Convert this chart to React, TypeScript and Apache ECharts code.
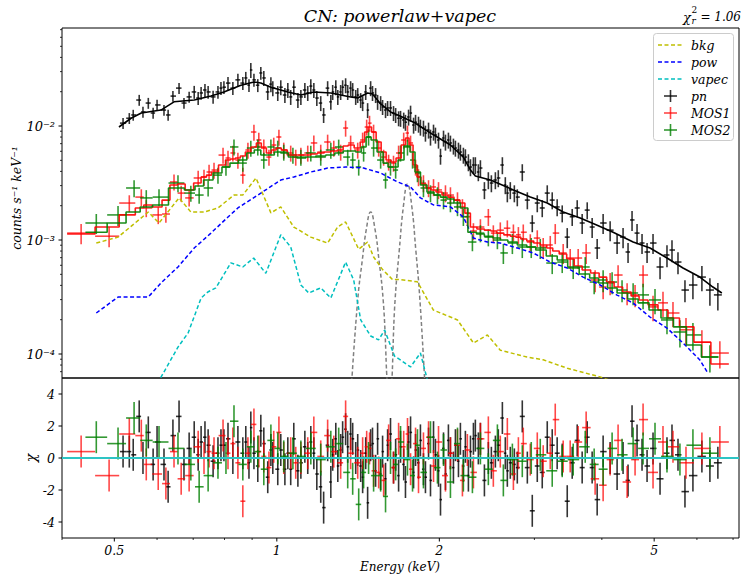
import React, { useEffect, useRef } from 'react';
import * as echarts from 'echarts';

// ---------------- axes ----------------
const X_MIN = 0.4;
const X_MAX = 7.18;
const Y_MIN = 6.16e-5;
const Y_MAX = 0.0724;
const CHI_MIN = -5;
const CHI_MAX = 5;

const xMajorTicks = [0.5, 1, 2, 5];
const xMinorTicks = [0.4, 0.6, 0.7, 0.8, 0.9, 3, 4, 6, 7];
const yMajorTicks = [1e-4, 1e-3, 1e-2];
const yMinorTicks = [7e-5, 8e-5, 9e-5, 2e-4, 3e-4, 4e-4, 5e-4, 6e-4, 7e-4, 8e-4, 9e-4,
  2e-3, 3e-3, 4e-3, 5e-3, 6e-3, 7e-3, 8e-3, 9e-3, 0.02, 0.03, 0.04, 0.05, 0.06, 0.07];
const chiTicks = [-4, -2, 0, 2, 4];

// ---------------- pn (black) ----------------
const pnE = [
  0.519, 0.533, 0.542, 0.556, 0.565, 0.578, 0.590, 0.600, 0.618, 0.629,
  0.642, 0.659, 0.673, 0.688, 0.703, 0.715, 0.724, 0.736, 0.746, 0.762,
  0.778, 0.788, 0.798, 0.812, 0.829, 0.847, 0.865, 0.876, 0.888, 0.895,
  0.907, 0.922, 0.934, 0.946, 0.962, 0.975, 0.983, 1.004, 1.017, 1.035,
  1.048, 1.061, 1.075, 1.094, 1.108, 1.127, 1.141, 1.156, 1.171, 1.186,
  1.206, 1.221, 1.242, 1.259, 1.269, 1.286, 1.297, 1.313, 1.324, 1.341,
  1.353, 1.370, 1.382, 1.400, 1.412, 1.430, 1.442, 1.461, 1.473, 1.492,
  1.504, 1.524, 1.537, 1.557, 1.570, 1.590, 1.604, 1.624, 1.645, 1.660,
  1.681, 1.695, 1.718, 1.731, 1.754, 1.769, 1.792, 1.807, 1.830, 1.845,
  1.869, 1.885, 1.910, 1.926, 1.951, 1.967, 1.993, 2.010, 2.036, 2.053,
  2.079, 2.097, 2.124, 2.142, 2.170, 2.188, 2.216, 2.235, 2.264, 2.284,
  2.313, 2.332, 2.362, 2.383, 2.424, 2.465, 2.497, 2.540, 2.572, 2.617,
  2.650, 2.673, 2.707, 2.754, 2.789, 2.849, 2.911, 2.973, 3.037, 3.102,
  3.169, 3.237, 3.306, 3.378, 3.451, 3.525, 3.601, 3.678, 3.758, 3.838,
  3.921, 4.022, 4.144, 4.269, 4.379, 4.473, 4.550, 4.648, 4.748, 4.851,
  4.976, 5.127, 5.281, 5.395, 5.535, 5.702, 5.899, 6.129, 6.342, 6.561,
];
const pnY = [
  0.0106, 0.0117, 0.0125, 0.0169, 0.0133, 0.0159, 0.0130, 0.0153, 0.0138, 0.0125,
  0.0183, 0.0215, 0.0159, 0.0180, 0.0199, 0.0176, 0.0195, 0.0207, 0.0199, 0.0180,
  0.0199, 0.0215, 0.0219, 0.0238, 0.0215, 0.0254, 0.0238, 0.0264, 0.0228, 0.0310,
  0.0254, 0.0228, 0.0292, 0.0264, 0.0199, 0.0233, 0.0215, 0.0195, 0.0219, 0.0187,
  0.0207, 0.0180, 0.0219, 0.0169, 0.0180, 0.0207, 0.0195, 0.0224, 0.0207, 0.0176,
  0.0159, 0.0125, 0.0215, 0.0163, 0.0199, 0.0219, 0.0180, 0.0199, 0.0219, 0.0228,
  0.0199, 0.0215, 0.0207, 0.0180, 0.0187, 0.0169, 0.0159, 0.0199, 0.0138, 0.0215,
  0.0195, 0.0187, 0.0163, 0.0159, 0.0147, 0.0138, 0.0144, 0.0144, 0.0130, 0.0125,
  0.0117, 0.0117, 0.0113, 0.0108, 0.0120, 0.0130, 0.0102, 0.0108, 0.0104, 0.0098,
  0.0096, 0.00868, 0.00923, 0.00801, 0.00886, 0.00834, 0.00754, 0.00545, 0.00785, 0.00724,
  0.00754, 0.00710, 0.00668, 0.00641, 0.00616, 0.00591, 0.00556, 0.00534, 0.00483, 0.00437,
  0.00455, 0.00455, 0.00395, 0.00428, 0.00275, 0.00336, 0.00316, 0.00336, 0.00350, 0.00455,
  0.00304, 0.00258, 0.00275, 0.00258, 0.00238, 0.00395, 0.00224, 0.00141, 0.00211, 0.00191,
  0.00258, 0.00224, 0.00195, 0.00172, 0.00106, 0.00160, 0.00191, 0.00141, 0.00183, 0.00130,
  0.000851, 0.00141, 0.00122, 0.000941, 0.00106, 0.000785, 0.00150, 0.00115, 0.000941, 0.000785,
  0.000941, 0.000580, 0.000739, 0.000817, 0.000641, 0.000364, 0.000403, 0.000473, 0.000364, 0.000330,
];
const pnErr = [
  0.11, 0.11, 0.11, 0.11, 0.11, 0.11, 0.11, 0.11, 0.11, 0.11,
  0.11, 0.11, 0.11, 0.11, 0.13, 0.13, 0.13, 0.13, 0.13, 0.13,
  0.13, 0.13, 0.13, 0.13, 0.13, 0.13, 0.13, 0.13, 0.13, 0.15,
  0.13, 0.13, 0.13, 0.15, 0.15, 0.15, 0.15, 0.15, 0.15, 0.15,
  0.15, 0.15, 0.15, 0.15, 0.15, 0.15, 0.15, 0.15, 0.15, 0.15,
  0.15, 0.15, 0.15, 0.15, 0.15, 0.15, 0.15, 0.15, 0.15, 0.15,
  0.15, 0.15, 0.15, 0.15, 0.15, 0.15, 0.15, 0.15, 0.15, 0.15,
  0.15, 0.15, 0.15, 0.15, 0.15, 0.15, 0.15, 0.15, 0.15, 0.15,
  0.15, 0.16, 0.16, 0.16, 0.16, 0.16, 0.16, 0.16, 0.16, 0.16,
  0.16, 0.16, 0.16, 0.16, 0.16, 0.16, 0.16, 0.16, 0.16, 0.16,
  0.16, 0.16, 0.16, 0.16, 0.16, 0.16, 0.16, 0.17, 0.17, 0.17,
  0.17, 0.17, 0.17, 0.17, 0.17, 0.17, 0.17, 0.17, 0.17, 0.17,
  0.17, 0.17, 0.17, 0.17, 0.17, 0.17, 0.17, 0.17, 0.17, 0.17,
  0.17, 0.17, 0.17, 0.17, 0.20, 0.17, 0.17, 0.20, 0.17, 0.20,
  0.20, 0.20, 0.20, 0.20, 0.20, 0.20, 0.20, 0.20, 0.20, 0.20,
  0.20, 0.22, 0.22, 0.22, 0.22, 0.22, 0.25, 0.25, 0.27, 0.27,
];
const pnChi = [
  0.4, 0.4, 0.2, 2.6, 0.0, 1.6, -0.4, 1.0, -0.4, -1.8,
  1.4, 2.6, -0.4, 0.6, 1.3, 0.2, 1.0, 1.3, 0.8, -0.2,
  0.3, 0.8, 0.8, 1.2, 0.0, 1.0, 0.3, 1.0, -0.3, 1.9,
  0.3, -0.5, 1.7, 0.9, -1.2, 0.5, 0.0, -0.7, 0.5, -0.7,
  0.3, -0.7, 1.2, -0.8, -0.3, 0.7, 0.0, 1.0, 0.3, -1.0,
  -1.8, -3.1, 0.8, -1.5, 0.2, 1.2, -0.5, 0.5, 1.3, 1.8,
  0.7, 1.5, 1.2, 0.0, 0.5, -0.5, -1.2, 0.3, -2.8, 0.8,
  0.9, -0.8, 1.2, -1.0, 0.4, -1.3, 0.8, 1.5, -0.6, 0.2,
  -1.1, 0.7, -0.4, -1.5, 1.0, 1.6, -0.9, 0.5, -0.3, 1.1,
  -0.7, -1.2, 0.9, -1.4, 1.3, 0.2, -0.8, -2.6, 0.6, -1.0,
  1.1, 0.3, -0.6, 0.8, -0.2, 1.2, -0.5, 0.7, -1.1, 0.4,
  1.2, 1.4, 0.6, 1.2, -1.4, 0.0, -0.3, 0.4, 0.8, 2.5,
  0.3, -0.8, -0.3, -0.4, -0.6, 2.6, -0.6, -3.3, -0.5, -0.9,
  1.3, 0.8, 0.3, -0.1, -2.7, -0.3, 1.1, -0.6, 1.3, -0.6,
  -2.6, 0.4, 0.0, -1.0, 0.0, -1.4, 2.3, 1.1, 0.2, -0.5,
  0.6, -1.3, 0.3, 1.1, 0.2, -2.1, -1.1, 0.1, -0.5, -0.3,
];
const pnModelE = [0.510, 0.537, 0.561, 0.610, 0.645, 0.703, 0.755, 0.798, 0.858, 0.907, 0.934,
  0.975, 1.048, 1.108, 1.171, 1.259, 1.370, 1.412, 1.473, 1.504, 1.557, 1.624, 1.695, 1.792,
  1.926, 2.097, 2.216, 2.284, 2.332, 2.487, 2.743, 2.948, 3.169, 3.392, 3.647, 3.921, 4.197,
  4.571, 4.912, 5.281, 5.654, 6.077, 6.424, 6.673];
const pnModelY = [0.0098, 0.0117, 0.0130, 0.0138, 0.0163, 0.0169, 0.0183, 0.0199, 0.0228, 0.0243, 0.0238,
  0.0219, 0.0199, 0.0187, 0.0199, 0.0195, 0.0180, 0.0176, 0.0195, 0.0191, 0.0156, 0.0133, 0.0122, 0.0108,
  0.00868, 0.00682, 0.00534, 0.00411, 0.00364, 0.00336, 0.00275, 0.00238, 0.00211, 0.00176, 0.00156, 0.00135, 0.00117,
  0.00096, 0.00085, 0.000695, 0.000568, 0.000473, 0.000387, 0.000343];

// ---------------- MOS1 (red) ----------------
const m1E = [
  0.434, 0.489, 0.533, 0.561, 0.573, 0.603, 0.623, 0.645, 0.665, 0.688,
  0.715, 0.733, 0.749, 0.765, 0.795, 0.812, 0.829, 0.847, 0.865, 0.884,
  0.907, 0.926, 0.946, 0.967, 0.987, 1.009, 1.030, 1.061, 1.084, 1.108,
  1.141, 1.171, 1.206, 1.242, 1.275, 1.313, 1.341, 1.370, 1.412, 1.442,
  1.467, 1.485, 1.511, 1.544, 1.577, 1.611, 1.645, 1.681, 1.718, 1.746,
  1.769, 1.807, 1.830, 1.869, 1.910, 1.951, 1.993, 2.053, 2.097, 2.161,
  2.207, 2.254, 2.313, 2.383, 2.465, 2.518, 2.594, 2.673, 2.743, 2.802,
  2.861, 2.948, 3.037, 3.115, 3.210, 3.279, 3.392, 3.495, 3.616, 3.741,
  3.887, 4.022, 4.144, 4.287, 4.455, 4.609, 4.769, 4.976, 5.192, 5.418,
  5.727, 6.129, 6.617,
];
const m1Y = [
  0.00115, 0.00108, 0.00211, 0.00238, 0.00191, 0.00166, 0.00169, 0.00323, 0.00258, 0.00234,
  0.00350, 0.00357, 0.00395, 0.00411, 0.00556, 0.00524, 0.00580, 0.00503, 0.00371, 0.00616,
  0.00886, 0.00754, 0.00655, 0.00534, 0.00681, 0.00801, 0.00616, 0.00580, 0.00534, 0.00556,
  0.00580, 0.00710, 0.00591, 0.00724, 0.00641, 0.00591, 0.00960, 0.00710, 0.00616, 0.00754,
  0.00980, 0.0106, 0.00886, 0.00641, 0.00534, 0.00483, 0.00473, 0.00580, 0.00754, 0.00868,
  0.00710, 0.00437, 0.00357, 0.00316, 0.00286, 0.00292, 0.00275, 0.00258, 0.00248, 0.00224,
  0.00195, 0.00160, 0.00120, 0.00130, 0.00160, 0.00115, 0.00122, 0.00127, 0.00117, 0.00111,
  0.00117, 0.00096, 0.00104, 0.000868, 0.000905, 0.00115, 0.000770, 0.000695, 0.000695, 0.000770,
  0.000446, 0.000387, 0.000420, 0.000493, 0.000343, 0.000330, 0.000493, 0.000259, 0.000281, 0.000229,
  0.000163, 0.000127, 0.000102,
];
const m1Err = [
  0.20, 0.20, 0.17, 0.17, 0.17, 0.17, 0.16, 0.16, 0.16, 0.16,
  0.16, 0.16, 0.16, 0.16, 0.16, 0.16, 0.16, 0.16, 0.16, 0.16,
  0.16, 0.16, 0.16, 0.16, 0.16, 0.16, 0.16, 0.16, 0.16, 0.16,
  0.16, 0.16, 0.16, 0.16, 0.16, 0.16, 0.16, 0.16, 0.16, 0.16,
  0.16, 0.16, 0.16, 0.16, 0.16, 0.16, 0.16, 0.16, 0.16, 0.16,
  0.16, 0.16, 0.17, 0.17, 0.17, 0.17, 0.17, 0.17, 0.17, 0.17,
  0.17, 0.17, 0.17, 0.17, 0.17, 0.17, 0.17, 0.17, 0.17, 0.17,
  0.17, 0.17, 0.17, 0.20, 0.20, 0.20, 0.20, 0.20, 0.20, 0.20,
  0.22, 0.22, 0.22, 0.22, 0.22, 0.22, 0.22, 0.25, 0.25, 0.25,
  0.27, 0.27, 0.27,
];
const m1Model = [
  0.00113, 0.00130, 0.00166, 0.00191, 0.00203, 0.00195, 0.00224, 0.00304, 0.00310, 0.00275,
  0.00316, 0.00357, 0.00371, 0.00395, 0.00455, 0.00503, 0.00513, 0.00524, 0.00545, 0.00591,
  0.00655, 0.00710, 0.00641, 0.00580, 0.00616, 0.00641, 0.00616, 0.00556, 0.00556, 0.00556,
  0.00556, 0.00568, 0.00580, 0.00591, 0.00604, 0.00616, 0.00668, 0.00681, 0.00641, 0.00724,
  0.00886, 0.00980, 0.00886, 0.00724, 0.00591, 0.00503, 0.00483, 0.00524, 0.00681, 0.00785,
  0.00681, 0.00455, 0.00357, 0.00310, 0.00286, 0.00275, 0.00264, 0.00248, 0.00238, 0.00224,
  0.00211, 0.00172, 0.00130, 0.00125, 0.00122, 0.00120, 0.00115, 0.00111, 0.00108, 0.00106,
  0.00102, 0.00098, 0.00094, 0.000905, 0.000851, 0.000801, 0.000754, 0.000682, 0.000591, 0.000545,
  0.000513, 0.000473, 0.000428, 0.000387, 0.000350, 0.000323, 0.000298, 0.000270, 0.000243, 0.000207,
  0.000173, 0.000127, 0.0000818,
];
const m1Chi = [
  0.4, -1.1, 1.5, 1.4, -0.4, -1.0, -1.6, 0.4, -1.3, -1.1,
  0.7, 0.0, 0.4, 0.3, 1.4, 0.3, 0.9, -0.3, -2.7, 0.3,
  2.1, 0.4, 0.1, -0.6, 0.7, 1.6, 0.0, 0.3, -0.3, 0.0,
  0.3, 1.6, 0.1, 1.4, 0.4, -0.3, 2.6, 0.3, -0.3, 0.3,
  0.7, 0.6, -0.8, -0.9, -1.4, 1.1, -0.6, 1.2, 0.7, 1.5,
  -0.7, 0.9, -1.2, 0.6, 1.3, -0.5, 1.0, -1.1, 0.3, 0.8,
  -1.4, 0.5, -0.9, 1.2, 1.6, -0.8, 0.4, 1.5, -1.0, 0.3,
  0.9, -0.1, 0.6, -0.2, 0.3, 2.4, 0.1, 0.1, 1.0, 1.9,
  -1.3, -1.7, -0.1, 1.1, -1.5, -0.1, 2.4, -0.9, 1.0, 0.7,
  -0.3, 0.6, 1.0,
];

// ---------------- MOS2 (green) ----------------
const m2E = [
  0.463, 0.508, 0.544, 0.573, 0.605, 0.656, 0.693, 0.718, 0.746, 0.778,
  0.805, 0.833, 0.865, 0.895, 0.922, 0.946, 0.975, 1.004, 1.030, 1.071,
  1.108, 1.156, 1.206, 1.259, 1.302, 1.353, 1.382, 1.418, 1.448, 1.479,
  1.511, 1.557, 1.590, 1.624, 1.660, 1.695, 1.746, 1.784, 1.822, 1.869,
  1.926, 1.984, 2.036, 2.097, 2.161, 2.216, 2.303, 2.383, 2.465, 2.562,
  2.628, 2.731, 2.849, 2.960, 3.076, 3.237, 3.378, 3.540, 3.726, 3.871,
  4.022, 4.179, 4.360, 4.571, 4.769, 5.018, 5.281, 5.581, 5.899, 6.342,
];
const m2Y = [
  0.00141, 0.00166, 0.00286, 0.00234, 0.00238, 0.00316, 0.00258, 0.00248, 0.00286, 0.00371,
  0.00437, 0.00655, 0.00473, 0.00641, 0.00655, 0.00503, 0.00655, 0.00641, 0.00591, 0.00556,
  0.00534, 0.00580, 0.00534, 0.00616, 0.00655, 0.00534, 0.00503, 0.00437, 0.00580, 0.00801,
  0.00641, 0.00503, 0.00336, 0.00437, 0.00411, 0.00580, 0.00655, 0.00503, 0.00387, 0.00286,
  0.00258, 0.00248, 0.00224, 0.00211, 0.00195, 0.00160, 0.00096, 0.00115, 0.00106, 0.00100,
  0.000770, 0.000941, 0.000868, 0.000868, 0.000851, 0.000628, 0.000641, 0.000568, 0.000580, 0.000428,
  0.000446, 0.000428, 0.000364, 0.000343, 0.000330, 0.000298, 0.000199, 0.000156, 0.000147, 0.0000942,
];
const m2Err = [
  0.20, 0.20, 0.17, 0.17, 0.17, 0.17, 0.16, 0.16, 0.16, 0.16,
  0.16, 0.16, 0.16, 0.16, 0.16, 0.16, 0.16, 0.16, 0.16, 0.16,
  0.16, 0.16, 0.16, 0.16, 0.16, 0.16, 0.16, 0.16, 0.16, 0.16,
  0.16, 0.16, 0.16, 0.16, 0.16, 0.16, 0.16, 0.16, 0.17, 0.17,
  0.17, 0.17, 0.17, 0.17, 0.17, 0.17, 0.17, 0.17, 0.17, 0.17,
  0.20, 0.20, 0.20, 0.20, 0.20, 0.20, 0.20, 0.20, 0.22, 0.22,
  0.22, 0.22, 0.22, 0.22, 0.25, 0.25, 0.25, 0.27, 0.27, 0.27,
];
const m2Model = [
  0.00117, 0.00141, 0.00176, 0.00195, 0.00203, 0.00286, 0.00275, 0.00298, 0.00336, 0.00387,
  0.00437, 0.00473, 0.00503, 0.00580, 0.00616, 0.00556, 0.00556, 0.00591, 0.00580, 0.00534,
  0.00524, 0.00534, 0.00545, 0.00556, 0.00580, 0.00604, 0.00604, 0.00591, 0.00655, 0.00801,
  0.00754, 0.00591, 0.00473, 0.00437, 0.00437, 0.00503, 0.00668, 0.00591, 0.00395, 0.00304,
  0.00264, 0.00248, 0.00238, 0.00229, 0.00211, 0.00191, 0.00117, 0.00113, 0.00108, 0.00104,
  0.00100, 0.00096, 0.000905, 0.000868, 0.000817, 0.000724, 0.000668, 0.000580, 0.000503, 0.000464,
  0.000420, 0.000379, 0.000343, 0.000304, 0.000281, 0.000243, 0.000207, 0.000173, 0.000120, 0.0000942,
];
const m2Chi = [
  1.3, 0.9, 2.5, 1.1, 1.0, 0.6, -0.4, -1.8, -1.1, -0.3,
  0.0, 2.3, -0.4, 0.7, 0.4, -0.7, 1.1, 0.6, 0.1, 0.3,
  0.1, 0.6, -0.1, 0.7, 0.9, -0.9, -1.3, -2.9, -0.9, 0.0,
  -1.1, -1.1, -2.4, 0.0, -0.4, 1.0, -0.1, -1.1, 0.8, -0.9,
  1.3, -0.6, 0.5, -1.5, 0.9, -1.1, -1.2, 0.6, -0.7, 1.1,
  -1.4, -0.1, -0.2, 0.0, 0.2, -0.8, -0.2, -0.1, 0.7, -0.4,
  -0.7, 0.6, 0.2, 0.9, 0.6, 1.2, 0.1, -0.1, 0.8, 0.3,
];

// ---------------- model components ----------------
const bkgE = [0.463, 0.508, 0.578, 0.605, 0.659, 0.693, 0.733, 0.778, 0.833, 0.865, 0.915, 0.975,
  1.017, 1.075, 1.156, 1.242, 1.296, 1.341, 1.418, 1.473, 1.511, 1.570, 1.638, 1.695, 1.821, 1.950,
  2.161, 2.313, 2.455, 2.594, 2.907, 3.115, 3.452, 3.971, 4.320];
const bkgY = [9.4e-4, 1.06e-3, 1.76e-3, 1.41e-3, 2.34e-3, 1.76e-3, 1.76e-3, 1.91e-3, 2.48e-3, 2.48e-3, 3.50e-3, 1.73e-3,
  1.95e-3, 1.30e-3, 1.06e-3, 9.4e-4, 1.30e-3, 1.44e-3, 8.3e-4, 9.6e-4, 7.1e-4, 5.5e-4, 4.5e-4, 4.5e-4, 4.3e-4, 2.43e-4,
  1.99e-4, 1.25e-4, 1.47e-4, 1.08e-4, 9.4e-5, 8.9e-5, 7.5e-5, 6.3e-5, 5.5e-5];
const powE = [0.463, 0.508, 0.578, 0.610, 0.656, 0.703, 0.755, 0.812, 0.847, 0.934, 1.017, 1.075, 1.156,
  1.242, 1.341, 1.448, 1.557, 1.674, 1.769, 1.845, 1.950, 2.097, 2.216, 2.313, 2.455, 2.594, 2.790,
  2.985, 3.210, 3.452, 3.694, 3.971, 4.268, 4.571, 4.912, 5.280, 5.654, 6.077, 6.288];
const powY = [2.29e-4, 3.16e-4, 3.16e-4, 4.2e-4, 5.8e-4, 8.5e-4, 1.15e-3, 1.59e-3, 1.91e-3, 2.58e-3, 3.36e-3, 3.57e-3, 3.95e-3,
  4.28e-3, 4.37e-3, 4.28e-3, 3.87e-3, 3.23e-3, 2.92e-3, 2.34e-3, 2.03e-3, 1.95e-3, 1.59e-3, 1.04e-3, 9.6e-4, 9.4e-4, 8.5e-4,
  7.7e-4, 6.4e-4, 5.68e-4, 4.73e-4, 4.03e-4, 3.29e-4, 2.80e-4, 2.11e-4, 1.69e-4, 1.25e-4, 8.86e-5, 6.8e-5];
const vapecE = [0.585, 0.656, 0.685, 0.724, 0.745, 0.771, 0.822, 0.865, 0.906, 0.954, 1.017, 1.061, 1.108,
  1.146, 1.206, 1.259, 1.341, 1.388, 1.430, 1.492, 1.543, 1.584, 1.652, 1.769, 1.845, 1.901, 1.926];
const vapecY = [4.4e-5, 1.15e-4, 1.53e-4, 3.10e-4, 3.50e-4, 3.80e-4, 6.3e-4, 5.8e-4, 6.95e-4, 5.1e-4, 1.11e-3, 8.7e-4, 4.03e-4,
  3.43e-4, 3.80e-4, 3.10e-4, 6.4e-4, 4.46e-4, 1.99e-4, 1.44e-4, 1.33e-4, 1.62e-4, 9.6e-5, 7.7e-5, 1.02e-4, 5.9e-5, 4.0e-5];
const instLineE = [1.374, 1.412, 1.440, 1.466, 1.492, 1.519, 1.546, 1.574, 1.614,
  1.622, 1.656, 1.686, 1.717, 1.746, 1.777, 1.809, 1.841, 1.882];
const instLineY = [5.0e-5, 2.98e-4, 6.68e-4, 1.27e-3, 1.76e-3, 1.27e-3, 6.68e-4, 2.98e-4, 5.0e-5,
  5.0e-5, 2.98e-4, 8.17e-4, 2.03e-3, 3.10e-3, 2.03e-3, 8.17e-4, 2.98e-4, 5.0e-5];

const legendNames = ['bkg', 'pow', 'vapec', 'pn', 'MOS1', 'MOS2'];
const titleText = 'CN: powerlaw+vapec';
const chi2Value = '1.06';

// ---------------- styling ----------------
const FONT = '"DejaVu Serif", serif';
const C = {
  pn: '#000000', mos1: '#ff0000', mos2: '#008000',
  bkg: '#bfbf00', pow: '#0000ff', vapec: '#00bfbf', inst: '#808080', zero: '#2ec4c4',
};
const OP = { pn: 0.8, mos1: 0.72, mos2: 0.8 };

function binEdges(E: number[]) {
  const n = E.length;
  const mids: number[] = [];
  for (let i = 0; i < n - 1; i++) mids.push(Math.sqrt(E[i] * E[i + 1]));
  const lo = E.map((e, i) => (i === 0 ? (e * e) / mids[0] : mids[i - 1]));
  const hi = E.map((e, i) => (i === n - 1 ? (e * e) / mids[n - 2] : mids[i]));
  return [lo, hi];
}
function crossData(E: number[], Y: number[], rel: number[]) {
  const [lo, hi] = binEdges(E);
  return E.map((e, i) => [e, Y[i], lo[i], hi[i], Y[i] * (1 - rel[i]), Y[i] * (1 + rel[i])]);
}
function chiData(E: number[], chi: number[]) {
  const [lo, hi] = binEdges(E);
  return E.map((e, i) => [e, chi[i], lo[i], hi[i], chi[i] - 1, chi[i] + 1]);
}
function stepData(E: number[], M: number[]) {
  const [lo, hi] = binEdges(E);
  const out: number[][] = [];
  E.forEach((_, i) => { out.push([lo[i], M[i]], [hi[i], M[i]]); });
  return out;
}
const zip = (a: number[], b: number[]) => a.map((v, i) => [v, b[i]]);

const crossRenderer = (color: string, opacity: number, width: number) => (_p: any, api: any) => {
  const e = api.value(0), y = api.value(1);
  const a = api.coord([api.value(2), y]);
  const b = api.coord([api.value(3), y]);
  const c = api.coord([e, api.value(4)]);
  const d = api.coord([e, api.value(5)]);
  const style = { stroke: color, lineWidth: width, opacity };
  return {
    type: 'group',
    children: [
      { type: 'line', shape: { x1: a[0], y1: a[1], x2: b[0], y2: b[1] }, style },
      { type: 'line', shape: { x1: c[0], y1: c[1], x2: d[0], y2: d[1] }, style },
    ],
  };
};

const txt = (text: string, x: number, y: number, align: string, valign: string, size = 12, italic = true) => ({
  type: 'text',
  style: {
    text, x, y, fill: '#000', font: `${italic ? 'italic ' : ''}${size}px ${FONT}`,
    textAlign: align, textVerticalAlign: valign, align, verticalAlign: valign,
  },
});

const SUP: Record<string, string> = { '-': '⁻', '0': '⁰', '1': '¹', '2': '²', '3': '³', '4': '⁴', '5': '⁵' };
const powLabel = (v: number) => '10' + String(Math.round(Math.log10(v))).split('').map((c) => SUP[c]).join('');

function buildOption() {
  const compLine = (name: string, E: number[], Y: number[], color: string, smooth = false) => ({
    name, type: 'line', xAxisIndex: 0, yAxisIndex: 0, data: zip(E, Y), showSymbol: false, symbol: 'none',
    smooth, silent: true, clip: true,
    lineStyle: { color, width: 1.5, type: [4, 2.5] },
  });
  const crossSeries = (name: string, data: any[], color: string, op: number, axis: number) => ({
    name, type: 'custom', xAxisIndex: axis, yAxisIndex: axis, data, clip: true, silent: true,
    encode: { x: 0, y: 1 }, renderItem: crossRenderer(color, op, 1.6),
  });
  const stepSeries = (name: string, data: any[], color: string) => ({
    name, type: 'line', xAxisIndex: 0, yAxisIndex: 0, data, showSymbol: false, symbol: 'none', silent: true,
    clip: true, lineStyle: { color, width: 1.6, opacity: 0.9 },
  });

  const series: any[] = [
    compLine('inst', instLineE, instLineY, C.inst, true),
    compLine('bkg', bkgE, bkgY, C.bkg),
    compLine('pow', powE, powY, C.pow),
    compLine('vapec', vapecE, vapecY, C.vapec),
    crossSeries('pn', crossData(pnE, pnY, pnErr), C.pn, OP.pn, 0),
    {
      name: 'pn model', type: 'line', xAxisIndex: 0, yAxisIndex: 0, data: zip(pnModelE, pnModelY),
      showSymbol: false, symbol: 'none', silent: true, clip: true, lineStyle: { color: C.pn, width: 1.6 },
    },
    crossSeries('MOS1', crossData(m1E, m1Y, m1Err), C.mos1, OP.mos1, 0),
    stepSeries('MOS1 model', stepData(m1E, m1Model), C.mos1),
    crossSeries('MOS2', crossData(m2E, m2Y, m2Err), C.mos2, OP.mos2, 0),
    stepSeries('MOS2 model', stepData(m2E, m2Model), C.mos2),
    crossSeries('pn chi', chiData(pnE, pnChi), C.pn, OP.pn, 1),
    crossSeries('MOS1 chi', chiData(m1E, m1Chi), C.mos1, OP.mos1, 1),
    crossSeries('MOS2 chi', chiData(m2E, m2Chi), C.mos2, OP.mos2, 1),
    {
      name: 'zero', type: 'line', xAxisIndex: 1, yAxisIndex: 1, data: [[X_MIN, 0], [X_MAX, 0]],
      showSymbol: false, symbol: 'none', silent: true, z: 5, lineStyle: { color: C.zero, width: 2 },
    },
    // x ticks (bottom of residual panel)
    {
      type: 'custom', xAxisIndex: 1, yAxisIndex: 1, clip: false, silent: true, z: 10,
      data: xMajorTicks.map((v) => [v, CHI_MIN]),
      renderItem: (_p: any, api: any) => {
        const v = api.value(0);
        const pt = api.coord([v, api.value(1)]);
        return {
          type: 'group',
          children: [
            { type: 'line', shape: { x1: pt[0], y1: pt[1], x2: pt[0], y2: pt[1] + 3.5 }, style: { stroke: '#000', lineWidth: 1 } },
            txt(String(v), pt[0], pt[1] + 6, 'center', 'top', 12.5),
          ],
        };
      },
    },
    {
      type: 'custom', xAxisIndex: 1, yAxisIndex: 1, clip: false, silent: true, z: 10,
      data: xMinorTicks.map((v) => [v, CHI_MIN]),
      renderItem: (_p: any, api: any) => {
        const pt = api.coord([api.value(0), api.value(1)]);
        return { type: 'line', shape: { x1: pt[0], y1: pt[1], x2: pt[0], y2: pt[1] + 2 }, style: { stroke: '#000', lineWidth: 0.8 } };
      },
    },
    // y ticks upper panel
    {
      type: 'custom', xAxisIndex: 0, yAxisIndex: 0, clip: false, silent: true, z: 10,
      data: yMajorTicks.map((v) => [X_MIN, v]),
      renderItem: (_p: any, api: any) => {
        const v = api.value(1);
        const pt = api.coord([api.value(0), v]);
        return {
          type: 'group',
          children: [
            { type: 'line', shape: { x1: pt[0] - 3.5, y1: pt[1], x2: pt[0], y2: pt[1] }, style: { stroke: '#000', lineWidth: 1 } },
            txt(powLabel(v), pt[0] - 7, pt[1], 'right', 'middle', 13),
          ],
        };
      },
    },
    {
      type: 'custom', xAxisIndex: 0, yAxisIndex: 0, clip: false, silent: true, z: 10,
      data: yMinorTicks.map((v) => [X_MIN, v]),
      renderItem: (_p: any, api: any) => {
        const pt = api.coord([api.value(0), api.value(1)]);
        return { type: 'line', shape: { x1: pt[0] - 2, y1: pt[1], x2: pt[0], y2: pt[1] }, style: { stroke: '#000', lineWidth: 0.8 } };
      },
    },
    // chi ticks
    {
      type: 'custom', xAxisIndex: 1, yAxisIndex: 1, clip: false, silent: true, z: 10,
      data: chiTicks.map((v) => [X_MIN, v]),
      renderItem: (_p: any, api: any) => {
        const v = api.value(1);
        const pt = api.coord([api.value(0), v]);
        return {
          type: 'group',
          children: [
            { type: 'line', shape: { x1: pt[0] - 3.5, y1: pt[1], x2: pt[0], y2: pt[1] }, style: { stroke: '#000', lineWidth: 1 } },
            txt(String(v), pt[0] - 7, pt[1], 'right', 'middle', 12.5),
          ],
        };
      },
    },
  ];

  const legendColors = [C.bkg, C.pow, C.vapec, C.pn, C.mos1, C.mos2];
  const legendOps = [1, 1, 1, OP.pn, OP.mos1, OP.mos2];
  const graphic: any[] = [
    { type: 'rect', z: 100, shape: { x: 653.5, y: 33.5, width: 80, height: 107, r: 3 }, style: { fill: 'rgba(255,255,255,0.8)', stroke: '#cccccc', lineWidth: 1 } },
  ];
  legendNames.forEach((name, i) => {
    const y = 45 + i * 17;
    if (i < 3) {
      graphic.push({ type: 'line', z: 101, shape: { x1: 658, y1: y, x2: 682, y2: y }, style: { stroke: legendColors[i], lineWidth: 1.5, lineDash: [4, 2.5] } });
    } else {
      const st = { stroke: legendColors[i], lineWidth: 1.6, opacity: legendOps[i] };
      graphic.push({ type: 'line', z: 101, shape: { x1: 664, y1: y, x2: 677, y2: y }, style: st });
      graphic.push({ type: 'line', z: 101, shape: { x1: 670.5, y1: y - 6, x2: 670.5, y2: y + 6 }, style: st });
    }
    graphic.push({ ...txt(name, 0, 0, 'left', 'middle', 12.5), x: 691, y, z: 101 });
  });
  graphic.push({ ...txt(titleText, 0, 0, 'center', 'middle', 17.5), x: 400, y: 16, z: 101 });
  graphic.push({ ...txt('χ', 0, 0, 'left', 'middle', 13), x: 683, y: 17, z: 101 });
  graphic.push({ ...txt('2', 0, 0, 'left', 'middle', 9, false), x: 691.5, y: 10, z: 101 });
  graphic.push({ ...txt('r', 0, 0, 'left', 'middle', 9), x: 691.5, y: 21, z: 101 });
  graphic.push({ ...txt('= ' + chi2Value, 0, 0, 'right', 'middle', 12), x: 741, y: 17, z: 101 });
  graphic.push({ ...txt('Energy (keV)', 0, 0, 'center', 'middle', 12), x: 400, y: 567, z: 101 });
  graphic.push({ ...txt('counts s⁻¹ keV⁻¹', 0, 0, 'center', 'middle', 12.5), x: 16, y: 198, rotation: Math.PI / 2, z: 101 });
  graphic.push({ ...txt('χ', 0, 0, 'center', 'middle', 14), x: 31, y: 458, rotation: Math.PI / 2, z: 101 });

  const hidden = { show: false };
  return {
    animation: false,
    backgroundColor: '#ffffff',
    grid: [
      { left: 62, top: 28, width: 677, height: 350, show: true, borderColor: '#000', borderWidth: 1, backgroundColor: 'transparent' },
      { left: 62, top: 378, width: 677, height: 160, show: true, borderColor: '#000', borderWidth: 1, backgroundColor: 'transparent' },
    ],
    xAxis: [
      { type: 'log', logBase: 10, gridIndex: 0, min: X_MIN, max: X_MAX, ...hidden },
      { type: 'log', logBase: 10, gridIndex: 1, min: X_MIN, max: X_MAX, ...hidden },
    ],
    yAxis: [
      { type: 'log', logBase: 10, gridIndex: 0, min: Y_MIN, max: Y_MAX, ...hidden },
      { type: 'value', gridIndex: 1, min: CHI_MIN, max: CHI_MAX, ...hidden },
    ],
    graphic,
    series,
  };
}

export default function App() {
  const ref = useRef<HTMLDivElement>(null);
  useEffect(() => {
    document.body.style.margin = '0';
    const chart = echarts.init(ref.current as HTMLDivElement, undefined, { renderer: 'svg' });
    chart.setOption(buildOption() as any);
    return () => chart.dispose();
  }, []);
  return <div ref={ref} style={{ width: 748, height: 582, background: '#fff' }} />;
}
